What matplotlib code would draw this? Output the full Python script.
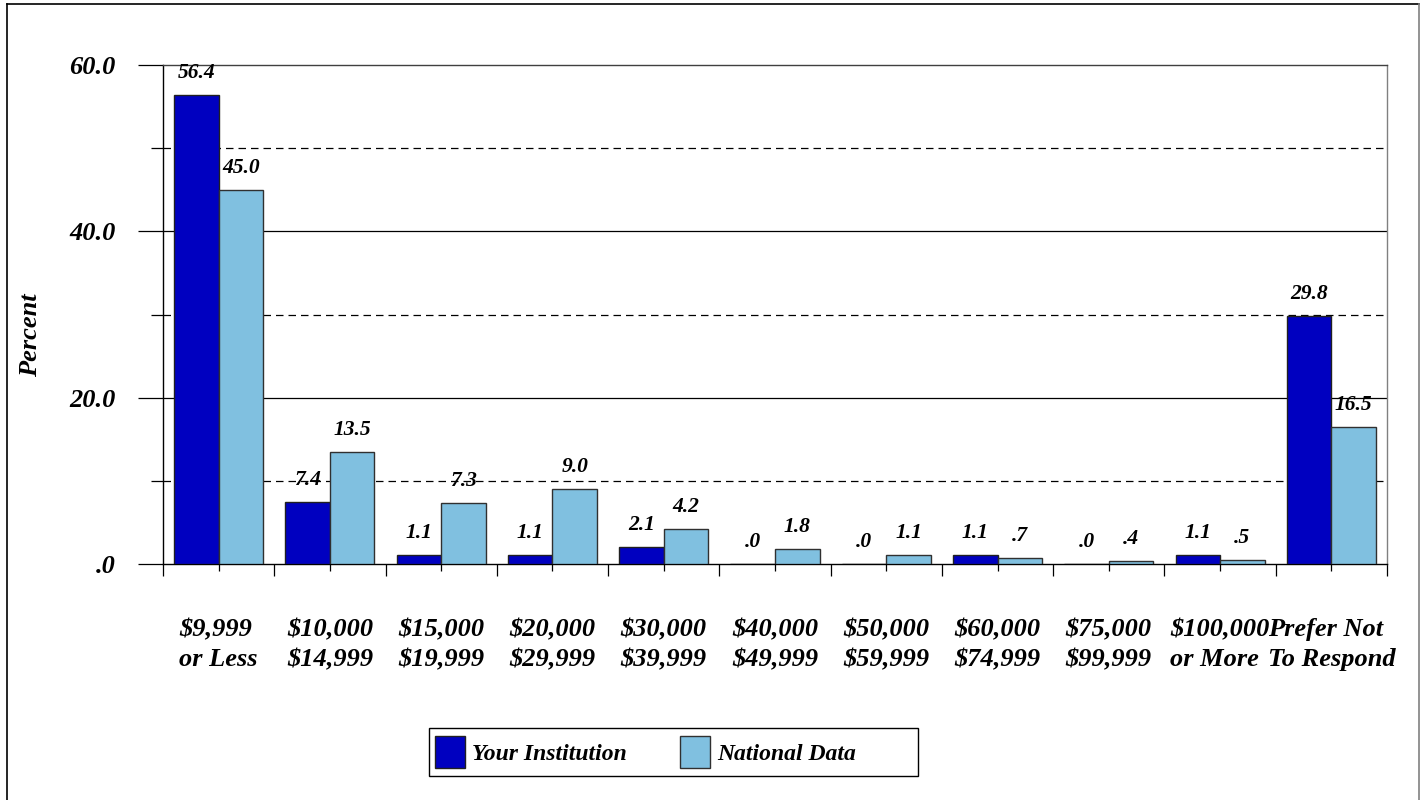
import numpy as np
import matplotlib
matplotlib.use('Agg')
import matplotlib.pyplot as plt
from matplotlib.lines import Line2D
from matplotlib.patches import Patch, Rectangle

# ─── Data ───
categories = ["$9,999\nor Less", "$10,000\n$14,999", "$15,000\n$19,999",
              "$20,000\n$29,999", "$30,000\n$39,999", "$40,000\n$49,999",
              "$50,000\n$59,999", "$60,000\n$74,999", "$75,000\n$99,999",
              "$100,000\nor More", "Prefer Not\nTo Respond"]
your_inst = [56.4, 7.4, 1.1, 1.1, 2.1, 0.0, 0.0, 1.1, 0.0, 1.1, 29.8]
national = [45.0, 13.5, 7.3, 9.0, 4.2, 1.8, 1.1, 0.7, 0.4, 0.5, 16.5]
series_names = ["Your Institution", "National Data"]
y_major = [0, 20, 40, 60]
y_minor = [10, 30, 50]

DARK = '#0000C0'
LIGHT = '#80C0E0'
FONT = 'Liberation Serif'
W, H = 1426, 800


def fmt(v):
    s = f"{v:.1f}"
    return s[1:] if s.startswith("0") else s


plt.rcParams['font.family'] = FONT
plt.rcParams['font.weight'] = 'bold'
plt.rcParams['font.style'] = 'italic'
plt.rcParams['axes.labelweight'] = 'bold'

fig = plt.figure(figsize=(W / 100, H / 100), dpi=100)
ax = fig.add_axes([163 / W, 1 - 564 / H, 1224 / W, 499 / H])

x = np.arange(len(categories))
w = 0.4
b1 = ax.bar(x - w / 2, your_inst, w, color=DARK, edgecolor='#202020', linewidth=1.0, zorder=3)
b2 = ax.bar(x + w / 2, national, w, color=LIGHT, edgecolor='#303030', linewidth=1.0, zorder=3)

for bars, vals in [(b1, your_inst), (b2, national)]:
    for rect, v in zip(bars, vals):
        ax.annotate(fmt(v), (rect.get_x() + rect.get_width() / 2, v),
                    xytext=(0, 22), textcoords='offset pixels',
                    ha='center', va='center', fontsize=15.5, zorder=4)

# grid lines: solid at majors, dashed at minors
for yv in y_major[1:-1]:
    ax.axhline(yv, color='black', linewidth=0.9, zorder=1)
for yv in y_minor:
    ax.axhline(yv, color='black', linewidth=0.9, linestyle=(0, (6, 4)), zorder=1)

ax.set_xlim(-0.5, len(categories) - 0.5)
ax.set_ylim(0, 60)

ax.set_yticks(y_major)
ax.set_yticklabels([fmt(v) for v in y_major], fontsize=19)
ax.set_yticks(y_minor, minor=True)
ax.tick_params(axis='y', which='major', length=18, width=0.9, pad=16)
ax.tick_params(axis='y', which='minor', length=9, width=0.9)

ax.set_xticks(x)
ax.set_xticklabels(categories, fontsize=19, linespacing=1.4, multialignment='left')
ax.set_xticks(np.arange(len(categories) + 1) - 0.5, minor=True)
ax.tick_params(axis='x', which='major', length=5, width=0.9, pad=34)
ax.tick_params(axis='x', which='minor', length=8.5, width=0.9)

ax.set_ylabel("Percent", fontsize=19, fontweight='bold')
ax.yaxis.set_label_coords(-0.099, 0.459)

ax.spines['left'].set_color('black')
ax.spines['bottom'].set_color('black')
ax.spines['top'].set_color('#404040')
ax.spines['right'].set_color('#808080')
for s in ax.spines.values():
    s.set_linewidth(1.0)

# legend (frame drawn separately, Excel style with extra room)
handles = [Patch(facecolor=DARK, edgecolor='#202020', label=series_names[0]),
           Patch(facecolor=LIGHT, edgecolor='#303030', label=series_names[1])]
fig.legend(handles=handles, loc='center left', bbox_to_anchor=(435 / W, 1 - 752 / H),
           ncol=2, fontsize=17, frameon=False, handlelength=1.27, handleheight=1.75,
           handletextpad=0.3, columnspacing=2.25, borderpad=0, borderaxespad=0)
fig.add_artist(Rectangle((429 / W, 1 - 776 / H), 489 / W, 48 / H, transform=fig.transFigure,
                         facecolor='none', edgecolor='black', linewidth=1.0))

# outer frame
fig.add_artist(Line2D([7 / W, 1419 / W], [1 - 4 / H, 1 - 4 / H], color='black', linewidth=1.2))
fig.add_artist(Line2D([7 / W, 7 / W], [0, 1 - 4 / H], color='black', linewidth=1.2))
fig.add_artist(Line2D([1419 / W, 1419 / W], [0, 1 - 4 / H], color='#808080', linewidth=1.2))

fig.savefig("out.png", dpi=100)
plt.close()
